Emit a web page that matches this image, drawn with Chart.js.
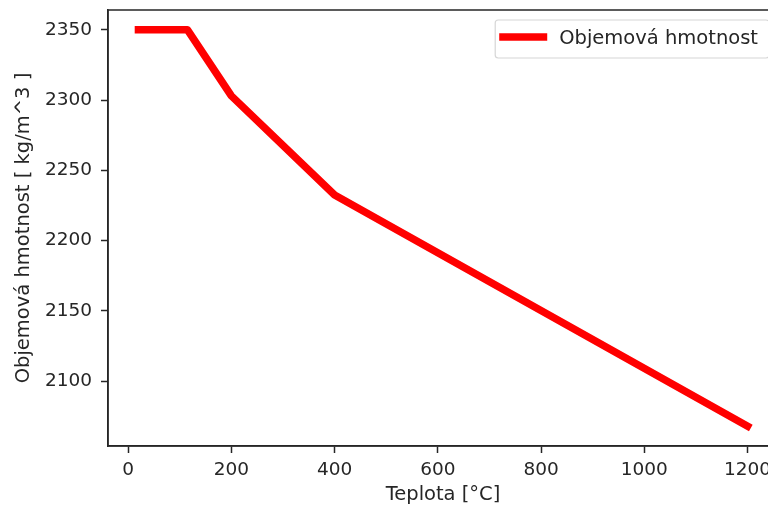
<!DOCTYPE html>
<html>
<head>
<meta charset="utf-8">
<script src="https://cdn.jsdelivr.net/npm/chart.js@4.4.0/dist/chart.umd.min.js"></script>
<style>
  body { margin: 0; overflow: hidden; background: #fff; }
  #wrap { width: 768px; height: 509px; overflow: hidden; }
</style>
</head>
<body>
<div id="wrap"><canvas id="densityChart" width="800" height="509"></canvas></div>
<script>
// temperature [°C] vs. density [kg/m^3]
let teplota = [20, 115, 200, 400, 1200];
let hmotnost = [2350, 2350, 2303, 2232.5, 2068];
let xTicks = [0, 200, 400, 600, 800, 1000, 1200];
let yTicks = [2100, 2150, 2200, 2250, 2300, 2350];
let seriesName = "Objemová hmotnost";

let fontFamily = "'DejaVu Sans', sans-serif";
let ink = "#262626";
let tickSize = 18.5;
let labelSize = 19.5;

// box around the axes + legend inside the top-right corner
const frame = {
  id: "frame",
  afterDraw(chart) {
    let ctx = chart.ctx;
    let a = chart.chartArea;
    ctx.save();
    ctx.strokeStyle = ink;
    ctx.lineWidth = 1.5;
    ctx.strokeRect(a.left, a.top, a.right - a.left, a.bottom - a.top);

    ctx.font = labelSize + "px " + fontFamily;
    let textW = ctx.measureText(seriesName).width;
    let right = a.right - 9;
    let textX = right - 11 - textW;
    let lineEnd = textX - 12;
    let lineStart = lineEnd - 48;
    let left = lineStart - 4;
    let top = a.top + 10;
    let h = 38;
    let midY = top + h / 2;

    ctx.fillStyle = "rgba(255,255,255,0.8)";
    ctx.strokeStyle = "#d6d6d6";
    ctx.lineWidth = 1.2;
    ctx.beginPath();
    ctx.roundRect(left, top, right - left, h, 3);
    ctx.fill();
    ctx.stroke();

    ctx.strokeStyle = "#ff0000";
    ctx.lineWidth = 7.5;
    ctx.lineCap = "butt";
    ctx.beginPath();
    ctx.moveTo(lineStart, midY - 2);
    ctx.lineTo(lineEnd, midY - 2);
    ctx.stroke();

    ctx.fillStyle = ink;
    ctx.textBaseline = "middle";
    ctx.fillText(seriesName, textX, midY);
    ctx.restore();
  }
};

let ctx = document.querySelector("#densityChart").getContext("2d");
let chart = new Chart(ctx, {
  type: "line",
  data: {
    datasets: [
      {
        label: seriesName,
        data: teplota.map((t, i) => ({ x: t, y: hmotnost[i] })),
        borderColor: "#ff0000",
        borderWidth: 7.5,
        borderCapStyle: "square",
        borderJoinStyle: "round",
        pointRadius: 0,
        fill: false,
        tension: 0,
      },
    ],
  },
  options: {
    responsive: false,
    animation: false,
    layout: { padding: { left: 0, top: 10, right: 22, bottom: 0 } },
    plugins: {
      legend: { display: false },
      tooltip: { enabled: false },
    },
    scales: {
      x: {
        type: "linear",
        min: -39,
        max: 1259,
        afterBuildTicks: (axis) => {
          axis.ticks = xTicks.map((v) => ({ value: v }));
        },
        afterFit: (axis) => {
          axis.height = 63;
          axis.paddingLeft = 0;
          axis.paddingRight = 0;
        },
        grid: { drawOnChartArea: false, drawTicks: true, tickLength: 7, tickWidth: 1.5, tickColor: ink },
        border: { display: true, color: ink, width: 1.5 },
        ticks: {
          color: ink,
          padding: 6,
          maxRotation: 0,
          callback: (v) => String(v),
          font: { family: fontFamily, size: tickSize },
        },
        title: {
          display: true,
          text: "Teplota [°C]",
          color: ink,
          padding: { top: 0, bottom: 2 },
          font: { family: fontFamily, size: labelSize },
        },
      },
      y: {
        min: 2053.9,
        max: 2364.1,
        afterBuildTicks: (axis) => {
          axis.ticks = yTicks.map((v) => ({ value: v }));
        },
        afterFit: (axis) => {
          axis.width = 108;
          axis.paddingTop = 0;
          axis.paddingBottom = 0;
        },
        grid: { drawOnChartArea: false, drawTicks: true, tickLength: 7, tickWidth: 1.5, tickColor: ink },
        border: { display: true, color: ink, width: 1.5 },
        ticks: {
          color: ink,
          padding: 9,
          callback: (v) => String(v),
          font: { family: fontFamily, size: tickSize },
        },
        title: {
          display: true,
          text: "Objemová hmotnost [ kg/m^3 ]",
          color: ink,
          padding: { top: 12, bottom: 0 },
          font: { family: fontFamily, size: labelSize },
        },
      },
    },
  },
  plugins: [frame],
});
</script>
</body>
</html>
